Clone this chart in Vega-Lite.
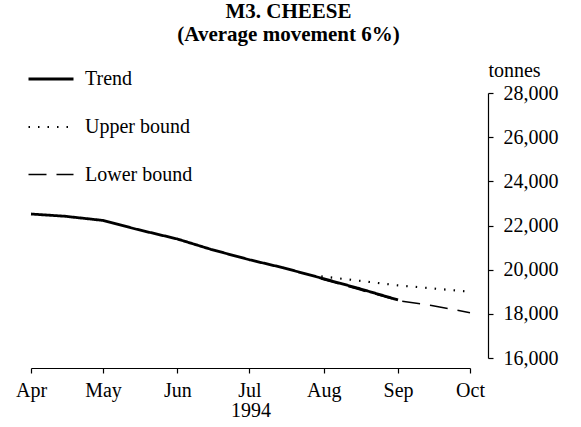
{
  "$schema": "https://vega.github.io/schema/vega-lite/v6.json",
  "width": 439,
  "height": 265,
  "autosize": {"type": "none"},
  "padding": {"left": 31, "top": 93, "right": 111, "bottom": 69},
  "background": "white",
  "title": {
    "text": ["M3. CHEESE", "(Average movement 6%)"],
    "frame": "group",
    "anchor": "middle",
    "dx": 38,
    "offset": 10,
    "font": "Liberation Serif",
    "fontSize": 21,
    "fontWeight": "bold",
    "lineHeight": 23,
    "color": "black"
  },
  "config": {
    "view": {"stroke": null},
    "font": "Liberation Serif",
    "axis": {
      "domainColor": "black",
      "tickColor": "black",
      "labelColor": "black",
      "titleColor": "black",
      "labelFont": "Liberation Serif",
      "titleFont": "Liberation Serif",
      "labelFontSize": 20,
      "titleFontSize": 20,
      "titleFontWeight": "normal",
      "grid": false,
      "domainWidth": 1.2,
      "tickWidth": 1.2
    },
    "legend": {
      "labelFont": "Liberation Serif",
      "labelFontSize": 20,
      "labelColor": "black"
    }
  },
  "data": {
    "values": [
      {"date": "1994/04/01", "value": 22520, "series": "Trend"},
      {"date": "1994/04/15", "value": 22420, "series": "Trend"},
      {"date": "1994/05/01", "value": 22230, "series": "Trend"},
      {"date": "1994/05/15", "value": 21830, "series": "Trend"},
      {"date": "1994/06/01", "value": 21390, "series": "Trend"},
      {"date": "1994/06/15", "value": 20920, "series": "Trend"},
      {"date": "1994/07/01", "value": 20450, "series": "Trend"},
      {"date": "1994/07/15", "value": 20090, "series": "Trend"},
      {"date": "1994/08/01", "value": 19590, "series": "Trend"},
      {"date": "1994/08/15", "value": 19170, "series": "Trend"},
      {"date": "1994/09/01", "value": 18630, "series": "Trend"},
      {"date": "1994/07/31", "value": 19700, "series": "Upper bound"},
      {"date": "1994/09/01", "value": 19290, "series": "Upper bound"},
      {"date": "1994/10/01", "value": 19000, "series": "Upper bound"},
      {"date": "1994/07/31", "value": 19580, "series": "Lower bound"},
      {"date": "1994/08/15", "value": 19120, "series": "Lower bound"},
      {"date": "1994/09/01", "value": 18600, "series": "Lower bound"},
      {"date": "1994/09/15", "value": 18380, "series": "Lower bound"},
      {"date": "1994/10/01", "value": 18050, "series": "Lower bound"}
    ]
  },
  "mark": {"type": "line", "color": "black", "strokeCap": "butt"},
  "encoding": {
    "x": {
      "field": "date",
      "type": "temporal",
      "scale": {"domain": [{"year": 1994, "month": 4, "date": 1}, {"year": 1994, "month": 10, "date": 1}]},
      "axis": {
        "title": "1994",
        "format": "%b",
        "values": [
          {"year": 1994, "month": 4, "date": 1},
          {"year": 1994, "month": 5, "date": 1},
          {"year": 1994, "month": 6, "date": 1},
          {"year": 1994, "month": 7, "date": 1},
          {"year": 1994, "month": 8, "date": 1},
          {"year": 1994, "month": 9, "date": 1},
          {"year": 1994, "month": 10, "date": 1}
        ],
        "offset": 10,
        "tickSize": 5,
        "labelPadding": 7,
        "labelFlush": false,
        "labelOverlap": false,
        "titlePadding": 0
      }
    },
    "y": {
      "field": "value",
      "type": "quantitative",
      "scale": {"domain": [16000, 28000], "nice": false},
      "axis": {
        "orient": "right",
        "title": "tonnes",
        "format": ",d",
        "values": [16000, 18000, 20000, 22000, 24000, 26000, 28000],
        "offset": 18,
        "tickSize": 5,
        "labelPadding": 10,
        "titleAngle": 0,
        "titleAlign": "center",
        "titleBaseline": "alphabetic",
        "titleX": 26,
        "titleY": -17
      }
    },
    "strokeDash": {
      "field": "series",
      "type": "nominal",
      "scale": {"domain": ["Trend", "Upper bound", "Lower bound"], "range": [[1, 0], [1.5, 8], [18, 10]]},
      "legend": {
        "title": null,
        "orient": "none",
        "legendX": -4,
        "legendY": -38,
        "padding": 0,
        "symbolType": "stroke",
        "symbolSize": 2025,
        "symbolStrokeColor": "black",
        "labelOffset": 10,
        "rowPadding": 14
      }
    },
    "strokeWidth": {
      "field": "series",
      "type": "nominal",
      "scale": {"domain": ["Trend", "Upper bound", "Lower bound"], "range": [2.8, 1.5, 2.2]},
      "legend": null
    },
    "order": {"field": "series"}
  }
}
